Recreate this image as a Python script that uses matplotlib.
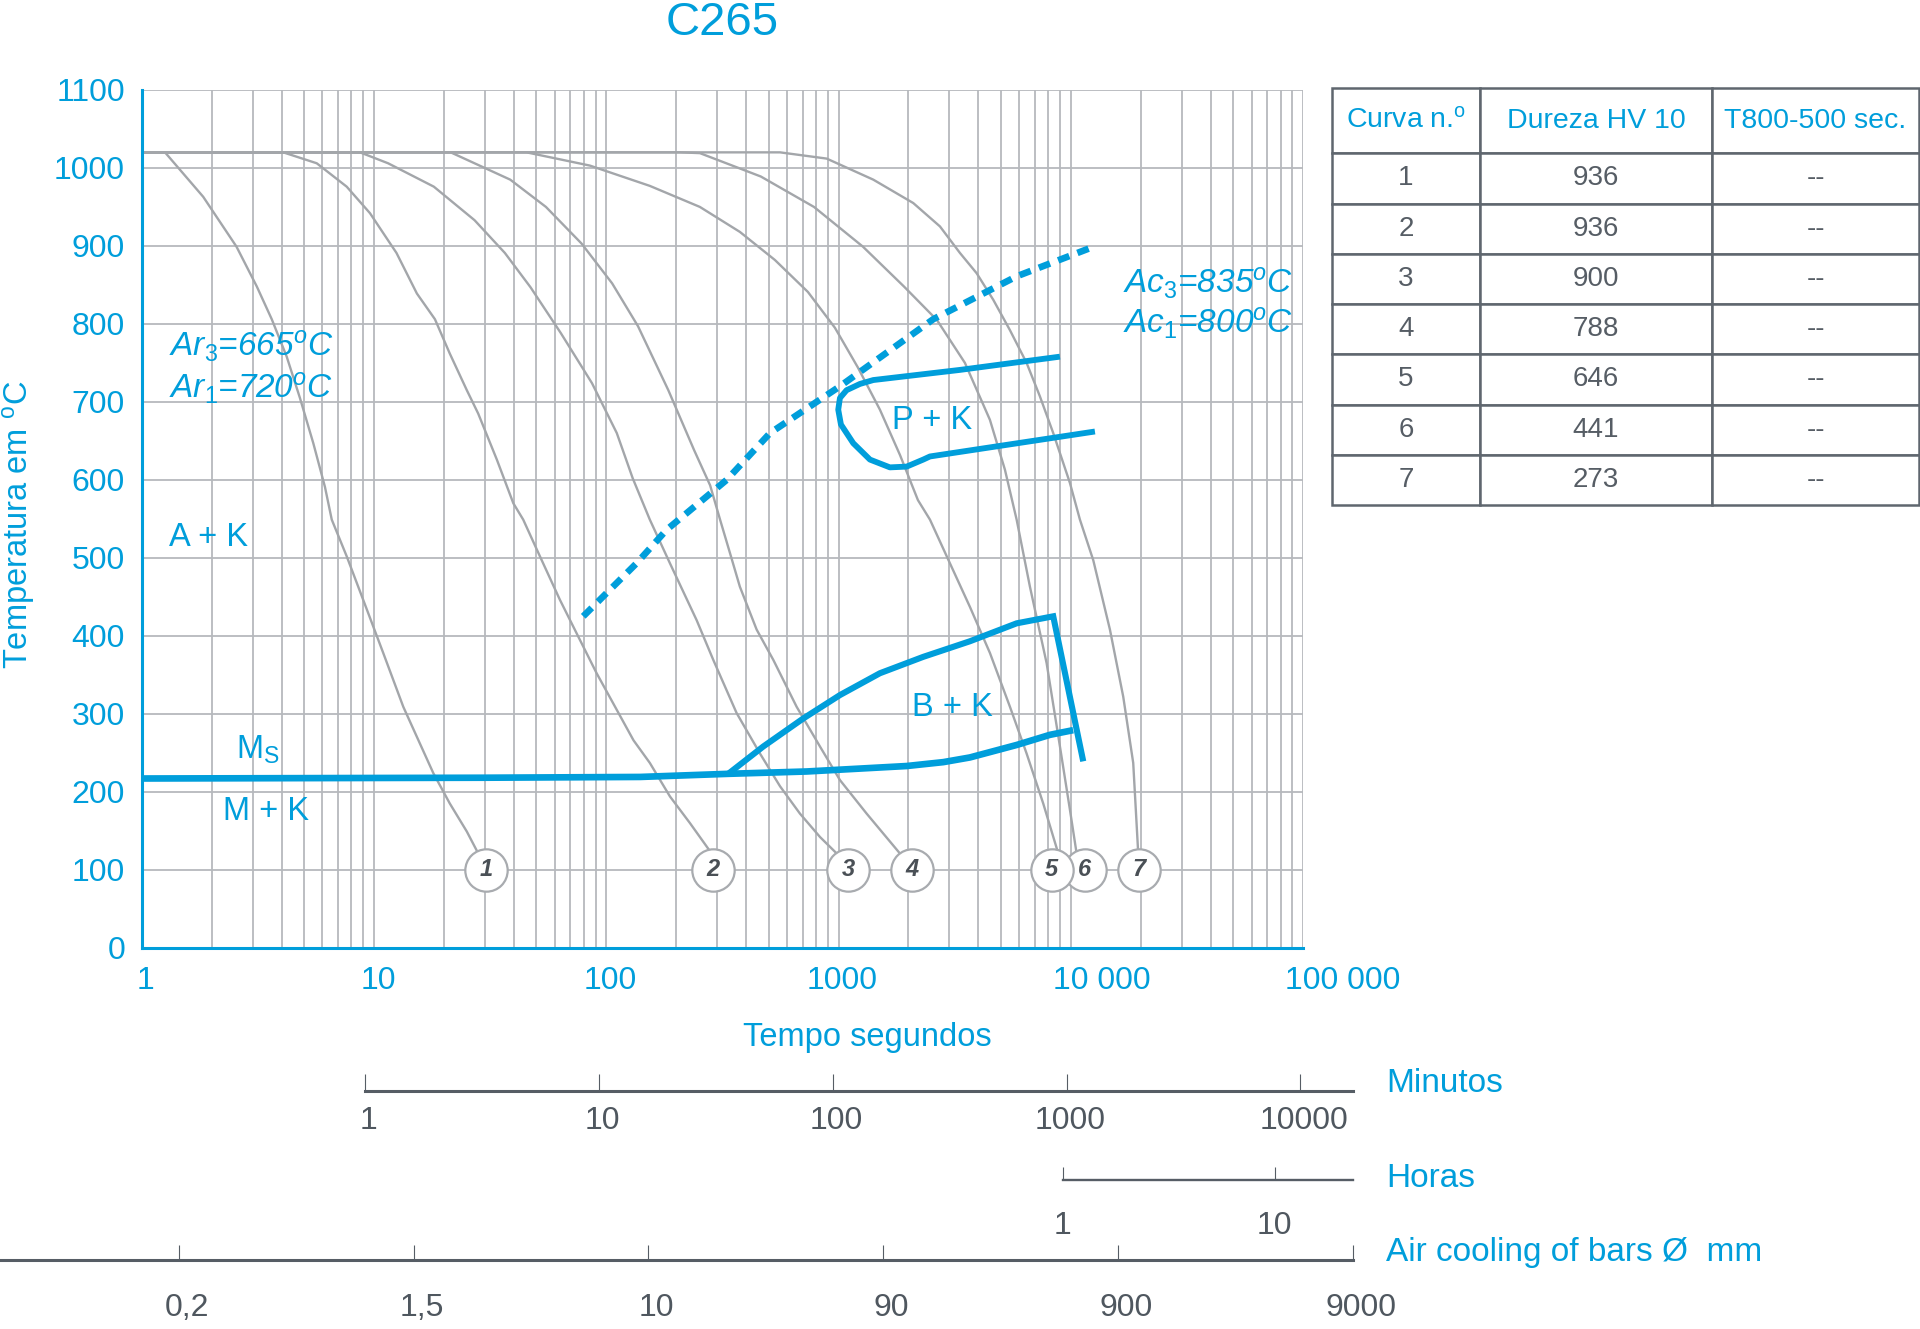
#!/usr/bin/env python3
"""CCT diagram for steel C265: cooling curves, transformation fields and hardness table."""
import matplotlib
matplotlib.use("Agg")
import matplotlib.pyplot as plt
import matplotlib.transforms as mtransforms
from matplotlib.ticker import FixedLocator, LogLocator, NullFormatter, NullLocator

BLUE = "#009edb"
CURVE = "#a3a6aa"
GRID = "#b6b9bd"
DARK = "#565d65"
EDGE = "#5f666e"

plt.rcParams["font.family"] = ["Liberation Sans", "DejaVu Sans"]
plt.rcParams["mathtext.fontset"] = "custom"
plt.rcParams["mathtext.rm"] = "Liberation Sans"
plt.rcParams["mathtext.it"] = "Liberation Sans:italic"

# --- cooling curves (time s, temperature ºC) ---
c1_t = [1, 1.26, 1.84, 2.56, 3.13, 3.63, 4.21, 4.80, 5.48, 6.15, 6.58, 7.63, 8.99,
        10.96, 13.37, 15.27, 18.0, 21.2, 25.1, 28.1]
c1_T = [1020, 1020, 963, 899, 848, 806, 758, 705, 647, 591, 549, 502, 446,
        378, 309, 271, 224, 185, 149, 121]
c2_t = [1, 4.07, 5.67, 7.63, 9.61, 12.5, 15.3, 18.3, 21.2, 25.1, 28.1, 33.8, 39.8,
        43.9, 51.8, 63.2, 74.6, 90.9, 111, 131, 154, 188, 229, 284]
c2_T = [1020, 1020, 1006, 976, 942, 891, 839, 806, 762, 715, 685, 626, 570,
        549, 502, 446, 403, 352, 305, 266, 237, 194, 160, 121]
c3_t = [1, 8.71, 11.5, 18.1, 27.1, 36.6, 47.2, 63.8, 86.8, 111, 130, 154, 188,
        245, 289, 364, 459, 560, 682, 832, 981]
c3_T = [1020, 1020, 1006, 976, 933, 891, 847, 788, 724, 660, 602, 549, 493,
        420, 369, 301, 249, 207, 172, 142, 121]
c4_t = [1, 21.4, 38.6, 55.0, 78.3, 106, 137, 185, 239, 280, 309, 341, 376, 444,
        524, 660, 832, 1014, 1321, 1836]
c4_T = [1020, 1020, 985, 950, 903, 852, 797, 715, 638, 593, 549, 506, 463, 408,
        369, 309, 258, 215, 172, 121]
c5_t = [1, 45.4, 85.1, 154, 253, 376, 532, 738, 965, 1212, 1507, 1838, 2197, 2475,
        3017, 3679, 4485, 5469, 6452, 7606, 8828]
c5_T = [1020, 1020, 1003, 977, 950, 918, 882, 841, 795, 744, 690, 632, 574, 549,
        493, 437, 378, 309, 249, 185, 121]
c6_t = [1, 208, 253, 463, 784, 1274, 1912, 2652, 3500, 4484, 5204, 5844, 6667,
        7866, 8978, 9911, 10590]
c6_T = [1020, 1020, 1019, 989, 950, 899, 848, 805, 750, 677, 613, 549, 463,
        365, 258, 177, 121]
c7_t = [1, 560, 889, 1411, 2097, 2733, 3331, 3931, 4634, 5468, 6451, 7362, 8400,
        9911, 10944, 12490, 14735, 16811, 18562, 19506]
c7_T = [1020, 1020, 1012, 985, 955, 925, 891, 865, 831, 792, 750, 707, 660,
        596, 549, 497, 408, 322, 237, 121]

curve_no = [1, 2, 3, 4, 5, 6, 7]
circle_t = [30.3, 289, 1101, 2064, 8266, 11500, 19700]
circle_T = [100, 100, 100, 100, 100, 100, 100]

# --- transformation lines ---
ms_t = [1, 30, 140, 335]
ms_T = [217, 218, 219, 223]
bk_low_t = [335, 729, 1965, 2825, 3678, 5845, 8128, 10236]
bk_low_T = [223, 226, 233, 238, 244, 260, 273, 279]
bk_up_t = [335, 474, 705, 1014, 1507, 2315, 3678, 5844, 8400, 11310]
bk_up_T = [223, 258, 294, 324, 352, 373, 393, 416, 425, 239]
pk_t = [8978, 3331, 1411, 1236, 1083, 1014, 997, 1024, 1157, 1365, 1664, 1965,
        2315, 2475, 12700]
pk_T = [758, 741, 728, 723, 715, 705, 690, 671, 647, 626, 616, 617, 626, 630, 662]
ac_t = [79.6, 135, 182, 330, 507, 1014, 2556, 5845, 12290]
ac_T = [425, 493, 536, 600, 660, 720, 806, 861, 898]

# --- axes ticks ---
temp_ticks = [0, 100, 200, 300, 400, 500, 600, 700, 800, 900, 1000, 1100]
sec_ticks = [1, 10, 100, 1000, 10000, 100000]
sec_labels = ["1", "10", "100", "1000", "10 000", "100 000"]
min_ticks = [1, 10, 100, 1000, 10000]
min_labels = ["1", "10", "100", "1000", "10000"]
hour_ticks = [1, 10]
hour_labels = ["1", "10"]
bar_labels = ["0,2", "1,5", "10", "90", "900", "9000"]

# --- hardness table ---
table_cols = ["Curva n.$^{\\mathrm{o}}$", "Dureza HV 10", "T800-500 sec."]
hardness = [936, 936, 900, 788, 646, 441, 273]
t800_500 = ["--", "--", "--", "--", "--", "--", "--"]

fig = plt.figure(figsize=(19.2, 13.29), dpi=100)
ax = fig.add_axes([0.0738, 0.2869, 0.6049, 0.6454])
ax.set_xscale("log")
ax.set_xlim(1, 1e5)
ax.set_ylim(0, 1100)
ax.xaxis.set_major_locator(FixedLocator(sec_ticks))
ax.xaxis.set_minor_locator(LogLocator(base=10, subs=range(2, 10), numticks=20))
ax.xaxis.set_minor_formatter(NullFormatter())
ax.set_xticks(sec_ticks, sec_labels)
ax.set_yticks(temp_ticks, [str(v) for v in temp_ticks])
ax.grid(which="both", axis="x", color=GRID, lw=1.3)
ax.grid(which="major", axis="y", color=GRID, lw=1.3)
ax.set_axisbelow(True)
ax.tick_params(which="both", length=0)
ax.tick_params(axis="y", pad=12, labelsize=23, labelcolor=BLUE)
ax.tick_params(axis="x", pad=13, labelsize=23, labelcolor=BLUE)
for s in ("top", "right"):
    ax.spines[s].set_visible(False)
for s in ("left", "bottom"):
    ax.spines[s].set_color(BLUE)
    ax.spines[s].set_linewidth(2.2)
# the long, spaced labels sit to the right of their grid line in the original
for lab in ax.get_xticklabels():
    if " " in lab.get_text():
        lab.set_horizontalalignment("left")
        dx = -0.18
    else:
        dx = 0.04
    lab.set_transform(lab.get_transform()
                      + mtransforms.ScaledTranslation(dx, 0, fig.dpi_scale_trans))

for t, T in [(c1_t, c1_T), (c2_t, c2_T), (c3_t, c3_T), (c4_t, c4_T),
             (c5_t, c5_T), (c6_t, c6_T), (c7_t, c7_T)]:
    ax.plot(t, T, color=CURVE, lw=1.7, zorder=2, solid_joinstyle="round")

ax.plot(ms_t + bk_low_t[1:], ms_T + bk_low_T[1:], color=BLUE, lw=4.8, zorder=4,
        solid_capstyle="butt")
ax.plot(bk_up_t, bk_up_T, color=BLUE, lw=4.4, zorder=4, solid_joinstyle="miter",
        solid_capstyle="butt")
ax.plot(pk_t, pk_T, color=BLUE, lw=4.2, zorder=4, solid_joinstyle="round",
        solid_capstyle="butt")
ax.plot(ac_t, ac_T, color=BLUE, lw=4.8, zorder=4, linestyle=(0, (1.8, 1.3)),
        dash_capstyle="butt")

# numbered circles; draw right to left so 5 overlaps 6 as in the original
for i in reversed(range(len(curve_no))):
    ax.scatter([circle_t[i]], [circle_T[i]], s=930, facecolor="white",
               edgecolor="#a8abaf", linewidth=1.6, zorder=5 + 0.1 * (7 - i))
    ax.text(circle_t[i], circle_T[i], str(curve_no[i]), ha="center", va="center",
            fontsize=17, fontstyle="italic", fontweight="bold", color="#4a5056",
            zorder=6 + 0.1 * (7 - i))

it = dict(color=BLUE, fontsize=24, fontstyle="italic", ha="left", va="baseline", zorder=6)
ax.text(1.315, 759, "$\\mathit{Ar}_{\\mathit{3}}$=665$^{\\mathit{o}}$C", **it)
ax.text(1.315, 705, "$\\mathit{Ar}_{\\mathit{1}}$=720$^{\\mathit{o}}$C", **it)
ax.text(16800, 839, "$\\mathit{Ac}_{\\mathit{3}}$=835$^{\\mathit{o}}$C", **it)
ax.text(16800, 788, "$\\mathit{Ac}_{\\mathit{1}}$=800$^{\\mathit{o}}$C", **it)
rg = dict(color=BLUE, fontsize=23.5, ha="left", va="baseline", zorder=6)
ax.text(1.315, 515, "A + K", **rg)
ax.text(2.55, 242, "M$_{\\mathrm{S}}$", **rg)
ax.text(2.23, 164, "M + K", **rg)
ax.text(1693, 665, "P + K", **rg)
ax.text(2064, 297, "B + K", **rg)

fig.text(0.376, 0.9737, "C265", color=BLUE, fontsize=34, ha="center", va="baseline")
fig.text(0.0094, 0.605, "Temperatura em $^{\\mathrm{o}}$C", color=BLUE, fontsize=23.5,
         rotation=90, ha="center", va="center")
fig.text(0.4516, 0.2130, "Tempo segundos", color=BLUE, fontsize=23.5, ha="center",
         va="baseline")


def scale_axis(rect, lw, tick_len, pad):
    a = fig.add_axes(rect)
    a.patch.set_visible(False)
    for s in ("top", "right", "left"):
        a.spines[s].set_visible(False)
    a.spines["bottom"].set_color(DARK)
    a.spines["bottom"].set_linewidth(lw)
    a.yaxis.set_visible(False)
    a.tick_params(axis="x", direction="in", length=tick_len, width=0.8, color=DARK,
                  labelsize=23, labelcolor="#4f575f", pad=pad)
    return a


ax_min = scale_axis([0.1901, 0.1793, 0.5146, 0.02], 2.2, 12.5, 11)
ax_min.set_xscale("log")
ax_min.set_xlim(1, 10 ** 4.225)
ax_min.set_xticks(min_ticks, min_labels)
ax_min.xaxis.set_minor_locator(NullLocator())

ax_hr = scale_axis([0.5536, 0.1121, 0.1510, 0.02], 1.7, 9.5, 22)
ax_hr.set_xscale("log")
ax_hr.set_xlim(1, 10 ** 1.370)
ax_hr.set_xticks(hour_ticks, hour_labels)
ax_hr.xaxis.set_minor_locator(NullLocator())

ax_bar = scale_axis([0.0, 0.0519, 0.7047, 0.02], 2.2, 11, 24)
ax_bar.set_xlim(-0.761, len(bar_labels) - 1)
ax_bar.set_xticks(range(len(bar_labels)), bar_labels)

for a, dx in ((ax_min, 0.04), (ax_bar, 0.08)):
    off = mtransforms.ScaledTranslation(dx, 0, fig.dpi_scale_trans)
    for lab in a.get_xticklabels():
        lab.set_transform(lab.get_transform() + off)

lab_kw = dict(color=BLUE, fontsize=24, ha="left", va="baseline")
fig.text(0.7219, 0.1783, "Minutos", **lab_kw)
fig.text(0.7219, 0.1068, "Horas", **lab_kw)
fig.text(0.7219, 0.0512, "Air cooling of bars Ø  mm", **lab_kw)

# hardness table
tab_ax = fig.add_axes([0.6938, 0.6200, 0.3057, 0.3138])
tab_ax.axis("off")
cells = [[str(n), str(h), s] for n, h, s in zip(curve_no, hardness, t800_500)]
tbl = tab_ax.table(cellText=cells, colLabels=table_cols, cellLoc="center",
                   colLoc="center", colWidths=[148, 232, 207], bbox=[0, 0, 1, 1])
tbl.auto_set_font_size(False)
for (r, c), cell in tbl.get_celld().items():
    cell.set_edgecolor(EDGE)
    cell.set_linewidth(1.8)
    cell.set_height(65 if r == 0 else 50)
    txt = cell.get_text()
    if r == 0:
        txt.set_color(BLUE)
        txt.set_fontsize(20.5)
    else:
        txt.set_color(DARK)
        txt.set_fontsize(20)

fig.savefig("out.png", dpi=100)
